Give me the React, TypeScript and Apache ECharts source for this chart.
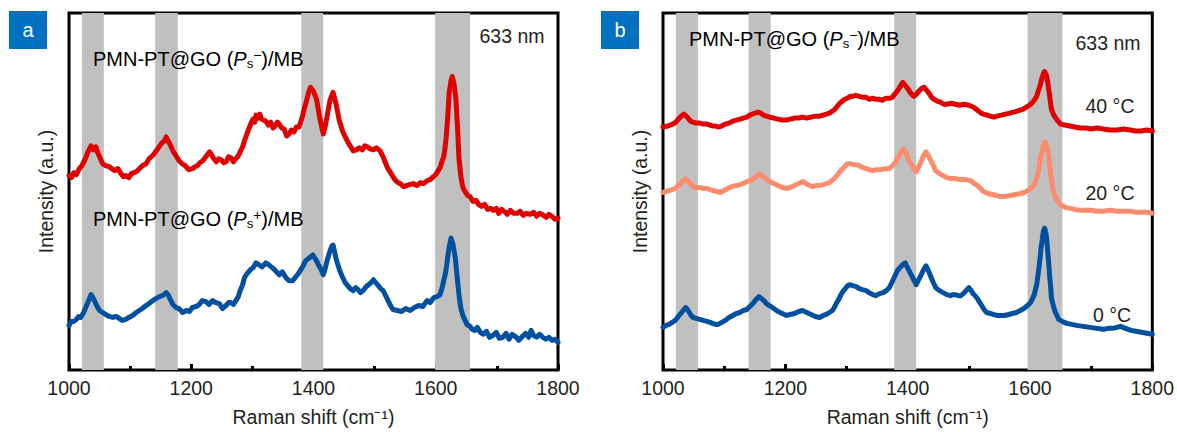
import React, { useEffect, useRef } from "react";
import * as echarts from "echarts";

// Raman shift ranges of the gray bands
const bandsA: [number, number][] = [[1021, 1057], [1141, 1178], [1380, 1416], [1599, 1656]];
const bandsB: [number, number][] = [[1021, 1057], [1140, 1176], [1378, 1414], [1596, 1653]];

// Panel a: PMN-PT@GO (Ps-)/MB  (arbitrary intensity units)
const aMinus: [number, number][] = [
  [1000, 196], [1004, 194], [1008, 199], [1012, 197], [1017, 203], [1021, 206], [1026, 212], [1031, 220],
  [1036, 226], [1040, 222], [1044, 225], [1047, 219], [1050, 215], [1055, 208], [1060, 206], [1066, 205],
  [1070, 203], [1075, 201], [1080, 203], [1084, 199], [1089, 195], [1093, 196], [1098, 194], [1102, 198],
  [1106, 199], [1110, 200], [1115, 203], [1120, 206], [1126, 208], [1131, 213], [1138, 217], [1145, 223],
  [1152, 229], [1156, 231], [1159, 235], [1162, 231], [1165, 228], [1170, 221], [1175, 216], [1180, 211],
  [1185, 208], [1190, 206], [1196, 202], [1202, 203], [1206, 205], [1210, 206], [1214, 209], [1219, 211],
  [1225, 216], [1230, 220], [1233, 217], [1236, 214], [1241, 210], [1245, 213], [1249, 212], [1253, 209],
  [1257, 210], [1261, 215], [1265, 214], [1269, 210], [1273, 213], [1277, 216], [1280, 220], [1284, 225],
  [1287, 231], [1291, 238], [1294, 243], [1298, 249], [1301, 253], [1304, 250], [1306, 257], [1309, 254],
  [1312, 258], [1315, 253], [1318, 252], [1322, 251], [1326, 247], [1330, 250], [1334, 244], [1337, 246],
  [1341, 250], [1344, 248], [1348, 244], [1352, 243], [1356, 236], [1360, 238], [1364, 242], [1368, 240],
  [1372, 245], [1376, 245], [1379, 250], [1382, 256], [1385, 264], [1388, 270], [1392, 280], [1395, 285],
  [1400, 281], [1405, 273], [1410, 255], [1413, 246], [1416, 238], [1419, 245], [1422, 255], [1427, 272],
  [1432, 280], [1437, 268], [1442, 252], [1445, 246], [1448, 240], [1452, 235], [1456, 230], [1460, 226],
  [1465, 221], [1470, 222], [1475, 224], [1480, 222], [1484, 226], [1488, 225], [1493, 223], [1498, 222],
  [1503, 224], [1509, 221], [1513, 216], [1517, 210], [1521, 204], [1525, 200], [1529, 196], [1533, 192],
  [1538, 189], [1542, 188], [1547, 185], [1552, 186], [1557, 187], [1563, 188], [1569, 186], [1575, 189],
  [1580, 188], [1586, 191], [1591, 192], [1596, 195], [1600, 197], [1604, 201], [1607, 204], [1610, 210],
  [1613, 215], [1615, 223], [1617, 234], [1619, 250], [1622, 280], [1625, 292], [1627, 296], [1630, 288],
  [1633, 273], [1636, 240], [1638, 213], [1641, 196], [1643, 188], [1645, 183], [1648, 180], [1652, 176],
  [1656, 175], [1661, 170], [1666, 171], [1670, 167], [1675, 165], [1680, 167], [1685, 162], [1690, 163],
  [1694, 161], [1699, 163], [1703, 158], [1708, 162], [1712, 160], [1717, 157], [1722, 161], [1727, 158],
  [1733, 158], [1738, 160], [1743, 156], [1748, 158], [1755, 157], [1760, 159], [1765, 155], [1770, 158],
  [1776, 156], [1781, 154], [1785, 157], [1790, 155], [1795, 152], [1800, 153],
];

// Panel a: PMN-PT@GO (Ps+)/MB
const aPlus: [number, number][] = [
  [1000, 45], [1004, 49], [1008, 49], [1012, 51], [1016, 54], [1019, 53], [1024, 58], [1028, 64],
  [1032, 70], [1036, 76], [1040, 72], [1043, 68], [1047, 63], [1050, 60], [1055, 58], [1060, 56],
  [1066, 54], [1072, 53], [1077, 54], [1082, 52], [1087, 50], [1093, 51], [1098, 53], [1104, 55],
  [1110, 58], [1115, 60], [1120, 62], [1126, 65], [1131, 67], [1137, 70], [1142, 72], [1148, 74],
  [1153, 75], [1159, 78], [1162, 76], [1165, 72], [1170, 66], [1175, 63], [1180, 62], [1186, 58],
  [1192, 60], [1197, 59], [1202, 63], [1208, 64], [1213, 66], [1218, 70], [1224, 69], [1229, 66],
  [1235, 70], [1240, 68], [1246, 67], [1251, 62], [1257, 65], [1261, 68], [1265, 68], [1269, 66],
  [1273, 70], [1277, 74], [1280, 80], [1284, 86], [1287, 93], [1291, 97], [1294, 99], [1298, 102],
  [1301, 103], [1306, 108], [1311, 106], [1316, 104], [1322, 108], [1327, 106], [1333, 103], [1338, 100],
  [1344, 96], [1349, 99], [1355, 93], [1360, 90], [1366, 90], [1371, 94], [1375, 97], [1379, 101],
  [1383, 105], [1387, 110], [1391, 112], [1395, 114], [1399, 116], [1402, 113], [1405, 110], [1408, 106],
  [1411, 103], [1414, 99], [1416, 96], [1419, 102], [1422, 110], [1425, 116], [1427, 120], [1430, 125],
  [1432, 126], [1435, 118], [1437, 112], [1442, 102], [1445, 97], [1448, 93], [1452, 88], [1456, 85],
  [1460, 82], [1465, 80], [1469, 83], [1473, 81], [1477, 78], [1481, 80], [1486, 84], [1490, 86],
  [1494, 88], [1498, 91], [1502, 88], [1506, 85], [1510, 82], [1514, 80], [1518, 75], [1522, 70],
  [1526, 65], [1530, 61], [1537, 60], [1544, 59], [1551, 62], [1558, 60], [1565, 63], [1572, 65],
  [1579, 64], [1586, 70], [1591, 68], [1597, 73], [1602, 74], [1607, 76], [1610, 82], [1613, 90],
  [1616, 98], [1618, 106], [1620, 116], [1622, 124], [1625, 133], [1628, 127], [1630, 120], [1632, 113],
  [1634, 100], [1636, 88], [1638, 76], [1640, 66], [1642, 60], [1645, 54], [1648, 50], [1651, 46],
  [1656, 44], [1660, 41], [1664, 40], [1668, 43], [1673, 38], [1678, 36], [1683, 39], [1688, 33],
  [1694, 35], [1699, 38], [1704, 32], [1710, 33], [1715, 37], [1720, 31], [1725, 36], [1730, 34],
  [1736, 30], [1742, 34], [1747, 37], [1752, 33], [1756, 40], [1760, 35], [1765, 33], [1770, 36],
  [1775, 33], [1780, 31], [1785, 33], [1790, 30], [1795, 31], [1800, 28],
];

// Panel b: 40 °C
const b40: [number, number][] = [
  [1000, 245], [1008, 246], [1016, 248], [1021, 250], [1025, 253], [1030, 256], [1034, 258], [1038, 256],
  [1041, 254], [1045, 251], [1049, 250], [1054, 249], [1060, 249], [1066, 248], [1072, 248], [1077, 247],
  [1081, 246], [1086, 246], [1090, 245], [1096, 246], [1102, 248], [1108, 249], [1114, 251], [1120, 252],
  [1126, 253], [1131, 254], [1137, 255], [1142, 257], [1146, 258], [1151, 259], [1155, 260], [1160, 259],
  [1164, 257], [1169, 256], [1174, 255], [1181, 254], [1188, 253], [1195, 252], [1202, 252], [1208, 253],
  [1215, 254], [1222, 254], [1228, 255], [1235, 254], [1242, 255], [1249, 256], [1256, 256], [1262, 257],
  [1267, 258], [1272, 259], [1277, 261], [1281, 263], [1285, 266], [1289, 269], [1293, 271], [1297, 273],
  [1301, 274], [1306, 276], [1310, 276], [1315, 277], [1321, 276], [1327, 275], [1332, 275], [1337, 273],
  [1342, 274], [1348, 273], [1353, 273], [1359, 272], [1364, 274], [1370, 274], [1375, 275], [1380, 279],
  [1384, 282], [1388, 286], [1392, 290], [1396, 287], [1400, 284], [1405, 279], [1410, 276], [1414, 278],
  [1418, 281], [1423, 284], [1427, 285], [1431, 282], [1435, 279], [1439, 275], [1443, 273], [1449, 271],
  [1454, 270], [1459, 268], [1464, 268], [1471, 269], [1478, 268], [1485, 267], [1492, 268], [1500, 267],
  [1508, 265], [1512, 263], [1516, 261], [1520, 259], [1524, 258], [1530, 257], [1535, 256], [1541, 255],
  [1546, 256], [1553, 257], [1560, 258], [1567, 259], [1573, 260], [1579, 261], [1584, 262], [1589, 263],
  [1594, 265], [1599, 267], [1603, 269], [1607, 272], [1611, 276], [1613, 280], [1615, 284], [1617, 288],
  [1619, 293], [1621, 297], [1622, 299], [1624, 301], [1627, 297], [1629, 290], [1632, 277], [1635, 263],
  [1638, 258], [1642, 254], [1646, 251], [1650, 248], [1657, 247], [1665, 246], [1673, 245], [1682, 244],
  [1691, 244], [1700, 243], [1710, 244], [1720, 243], [1731, 242], [1742, 242], [1753, 243], [1764, 242],
  [1773, 241], [1782, 241], [1791, 242], [1800, 241],
];

// Panel b: 20 °C
const b20: [number, number][] = [
  [1000, 179], [1005, 180], [1010, 181], [1015, 182], [1020, 183], [1025, 186], [1029, 188], [1033, 191],
  [1037, 193], [1040, 191], [1043, 189], [1046, 187], [1049, 185], [1054, 184], [1060, 184], [1066, 183],
  [1072, 183], [1077, 182], [1082, 181], [1088, 180], [1093, 179], [1100, 181], [1106, 183], [1113, 185],
  [1120, 186], [1126, 187], [1131, 188], [1137, 190], [1142, 191], [1146, 192], [1150, 194], [1154, 196],
  [1158, 198], [1162, 196], [1166, 194], [1170, 192], [1174, 190], [1181, 188], [1188, 186], [1195, 184],
  [1202, 183], [1208, 184], [1215, 186], [1222, 188], [1228, 190], [1232, 189], [1236, 187], [1240, 186],
  [1244, 185], [1250, 186], [1256, 186], [1262, 187], [1267, 188], [1272, 189], [1276, 191], [1280, 193],
  [1283, 195], [1288, 199], [1292, 202], [1297, 205], [1301, 208], [1306, 208], [1311, 207], [1316, 207],
  [1321, 206], [1327, 204], [1332, 203], [1337, 202], [1342, 201], [1349, 202], [1356, 202], [1363, 203],
  [1370, 203], [1375, 206], [1381, 210], [1384, 214], [1387, 217], [1390, 221], [1392, 223], [1395, 221],
  [1398, 218], [1401, 213], [1405, 208], [1410, 203], [1414, 200], [1418, 205], [1422, 210], [1426, 216],
  [1430, 220], [1434, 216], [1438, 211], [1442, 206], [1446, 201], [1452, 198], [1458, 196], [1464, 194],
  [1470, 193], [1478, 193], [1486, 192], [1494, 192], [1503, 191], [1509, 188], [1514, 186], [1519, 183],
  [1524, 180], [1531, 178], [1538, 177], [1545, 176], [1552, 175], [1560, 175], [1568, 176], [1576, 177],
  [1585, 178], [1591, 179], [1596, 181], [1601, 183], [1606, 186], [1609, 190], [1612, 196], [1615, 205],
  [1617, 213], [1619, 219], [1621, 225], [1623, 228], [1625, 230], [1628, 225], [1631, 213], [1634, 196],
  [1638, 180], [1641, 175], [1644, 172], [1647, 169], [1651, 166], [1658, 164], [1665, 163], [1673, 162],
  [1682, 161], [1691, 161], [1700, 161], [1710, 160], [1720, 160], [1731, 161], [1742, 160], [1753, 160],
  [1764, 160], [1773, 159], [1782, 159], [1791, 159], [1800, 158],
];

// Panel b: 0 °C
const b0: [number, number][] = [
  [1000, 43], [1005, 45], [1010, 46], [1015, 48], [1020, 50], [1025, 54], [1029, 57], [1033, 60],
  [1037, 63], [1040, 61], [1043, 58], [1046, 55], [1049, 53], [1054, 52], [1060, 51], [1066, 50],
  [1072, 49], [1077, 48], [1081, 47], [1086, 46], [1090, 46], [1096, 48], [1102, 50], [1108, 53],
  [1114, 55], [1120, 57], [1126, 58], [1131, 60], [1137, 61], [1142, 64], [1147, 67], [1152, 71],
  [1157, 74], [1161, 72], [1165, 70], [1169, 67], [1174, 65], [1181, 62], [1188, 59], [1195, 57],
  [1202, 55], [1208, 56], [1215, 57], [1222, 59], [1228, 60], [1235, 58], [1242, 56], [1249, 54],
  [1256, 53], [1262, 55], [1267, 56], [1272, 58], [1277, 60], [1281, 64], [1284, 68], [1288, 72],
  [1291, 76], [1295, 80], [1298, 82], [1302, 85], [1305, 86], [1310, 85], [1316, 84], [1321, 82],
  [1326, 81], [1332, 80], [1337, 78], [1343, 76], [1348, 75], [1354, 77], [1360, 78], [1365, 80],
  [1370, 83], [1374, 88], [1377, 92], [1380, 96], [1383, 100], [1387, 103], [1390, 105], [1393, 107],
  [1396, 108], [1400, 103], [1405, 97], [1410, 91], [1414, 86], [1418, 91], [1422, 96], [1426, 101],
  [1430, 105], [1434, 100], [1438, 94], [1442, 88], [1446, 83], [1452, 80], [1458, 78], [1464, 76],
  [1470, 75], [1474, 76], [1478, 76], [1483, 75], [1487, 75], [1491, 77], [1494, 79], [1497, 81],
  [1500, 83], [1504, 80], [1507, 77], [1510, 75], [1513, 73], [1517, 69], [1521, 65], [1525, 61],
  [1529, 58], [1535, 57], [1540, 56], [1546, 55], [1552, 55], [1558, 55], [1565, 56], [1571, 57],
  [1578, 58], [1584, 60], [1590, 62], [1596, 65], [1601, 68], [1604, 72], [1607, 76], [1609, 81],
  [1611, 86], [1613, 95], [1615, 105], [1617, 116], [1618, 123], [1620, 131], [1621, 136], [1622, 140],
  [1624, 143], [1626, 138], [1627, 134], [1629, 120], [1631, 105], [1632, 96], [1634, 82], [1635, 73],
  [1638, 65], [1641, 59], [1644, 55], [1647, 51], [1653, 49], [1660, 47], [1668, 46], [1676, 45],
  [1687, 44], [1698, 43], [1709, 42], [1720, 41], [1728, 42], [1735, 42], [1742, 43], [1748, 44],
  [1756, 42], [1765, 40], [1773, 39], [1782, 38], [1791, 37], [1800, 36],
];

const xTickLabels = ["1000", "1200", "1400", "1600", "1800"];
const xMin = 1000;
const xMax = 1800;
const yMax = 360;

const RED = "#e00000";
const BLUE = "#00509f";
const SALMON = "#fb8d6e";
const TXT = "#231f20";
const FONT = "Liberation Sans, Arial, sans-serif";

const richLabel = {
  n: { fontSize: 20, fontFamily: FONT, color: TXT },
  i: { fontSize: 20, fontFamily: FONT, color: TXT, fontStyle: "italic" },
  sub: { fontSize: 13, fontFamily: FONT, color: TXT, verticalAlign: "bottom", padding: [8, 0, 0, 0] },
  sup: { fontSize: 14, fontFamily: FONT, color: TXT, verticalAlign: "top", padding: [0, 0, 8, 0] },
};

function sampleText(left: number, top: number, sign: string) {
  return {
    type: "text",
    left,
    top,
    z: 100,
    style: {
      text: `{n|PMN-PT@GO (}{i|P}{sub|s}{sup|${sign}}{n|)/MB}`,
      rich: richLabel,
    },
  };
}

function plainText(x: number, y: number, text: string) {
  return {
    type: "text",
    x,
    y,
    z: 100,
    style: {
      text,
      fontSize: 19.5,
      fontFamily: FONT,
      fill: TXT,
      align: "center",
      verticalAlign: "middle",
    },
  };
}

function badge(x: number, letter: string) {
  return [
    { type: "rect", z: 100, shape: { x, y: 11, width: 38, height: 38 }, style: { fill: "#0070c0" } },
    {
      type: "text",
      z: 101,
      x: x + 19,
      y: 30,
      style: { text: letter, fontSize: 20, fontFamily: FONT, fill: "#ffffff", align: "center", verticalAlign: "middle" },
    },
  ];
}

export default function App() {
  const ref = useRef<HTMLDivElement>(null);
  useEffect(() => {
    if (!ref.current) return;
    const chart = echarts.init(ref.current, undefined, { renderer: "svg" });

    const xAxisBase = (gridIndex: number) => ({
      type: "value",
      gridIndex,
      min: xMin,
      max: xMax,
      interval: 200,
      axisLine: { show: false },
      axisTick: { show: true, inside: true, length: 6, lineStyle: { color: "#000", width: 3 } },
      minorTick: { show: true, splitNumber: 2, length: 4, lineStyle: { color: "#000", width: 3 } },
      splitLine: { show: false },
      axisLabel: {
        fontSize: 19.5,
        fontFamily: FONT,
        color: TXT,
        margin: 8,
        formatter: (v: number) => xTickLabels.find((t) => Number(t) === v) ?? "",
      },
      name: "Raman shift (cm⁻¹)",
      nameLocation: "middle",
      nameGap: 37,
      nameTextStyle: { fontSize: 19.5, fontFamily: FONT, color: TXT },
    });
    const yAxisBase = (gridIndex: number) => ({
      type: "value",
      gridIndex,
      min: 0,
      max: yMax,
      axisLine: { show: false },
      axisTick: { show: false },
      axisLabel: { show: false },
      splitLine: { show: false },
      name: "Intensity (a.u.)",
      nameLocation: "middle",
      nameGap: 13,
      nameTextStyle: { fontSize: 19.5, fontFamily: FONT, color: TXT },
    });

    const bandSeries = (idx: number, bands: [number, number][]) => ({
      type: "line",
      xAxisIndex: idx,
      yAxisIndex: idx,
      data: [],
      z: 1,
      silent: true,
      markArea: {
        silent: true,
        itemStyle: { color: "#c0c0c0", opacity: 1 },
        data: bands.map(([a, b]) => [{ xAxis: a }, { xAxis: b }]),
      },
    });
    const lineSeries = (idx: number, data: [number, number][], color: string) => ({
      type: "line",
      xAxisIndex: idx,
      yAxisIndex: idx,
      data,
      z: 3,
      showSymbol: false,
      symbol: "none",
      lineStyle: { color, width: 5, join: "round", cap: "round" },
    });

    chart.setOption({
      animation: false,
      backgroundColor: "#ffffff",
      grid: [
        { left: 69, top: 13, width: 489, height: 360, show: true, borderColor: "#000", borderWidth: 3, backgroundColor: "transparent" },
        { left: 663, top: 13, width: 491, height: 360, show: true, borderColor: "#000", borderWidth: 3, backgroundColor: "transparent" },
      ],
      xAxis: [xAxisBase(0), xAxisBase(1)],
      yAxis: [yAxisBase(0), yAxisBase(1)],
      series: [
        bandSeries(0, bandsA),
        bandSeries(1, bandsB),
        lineSeries(0, aMinus, RED),
        lineSeries(0, aPlus, BLUE),
        lineSeries(1, b40, RED),
        lineSeries(1, b20, SALMON),
        lineSeries(1, b0, BLUE),
      ],
      graphic: [
        ...badge(9, "a"),
        ...badge(601, "b"),
        sampleText(93, 48, "−"),
        sampleText(93, 208, "+"),
        sampleText(689, 28, "−"),
        plainText(512, 36, "633 nm"),
        plainText(1108, 43, "633 nm"),
        plainText(1110, 106, "40 °C"),
        plainText(1110, 193, "20 °C"),
        plainText(1112, 315, "0 °C"),
      ],
    });
    return () => chart.dispose();
  }, []);
  return (
    <div
      ref={ref}
      style={{ position: "fixed", left: 0, top: 0, width: 1177, height: 432, background: "#fff" }}
    />
  );
}
